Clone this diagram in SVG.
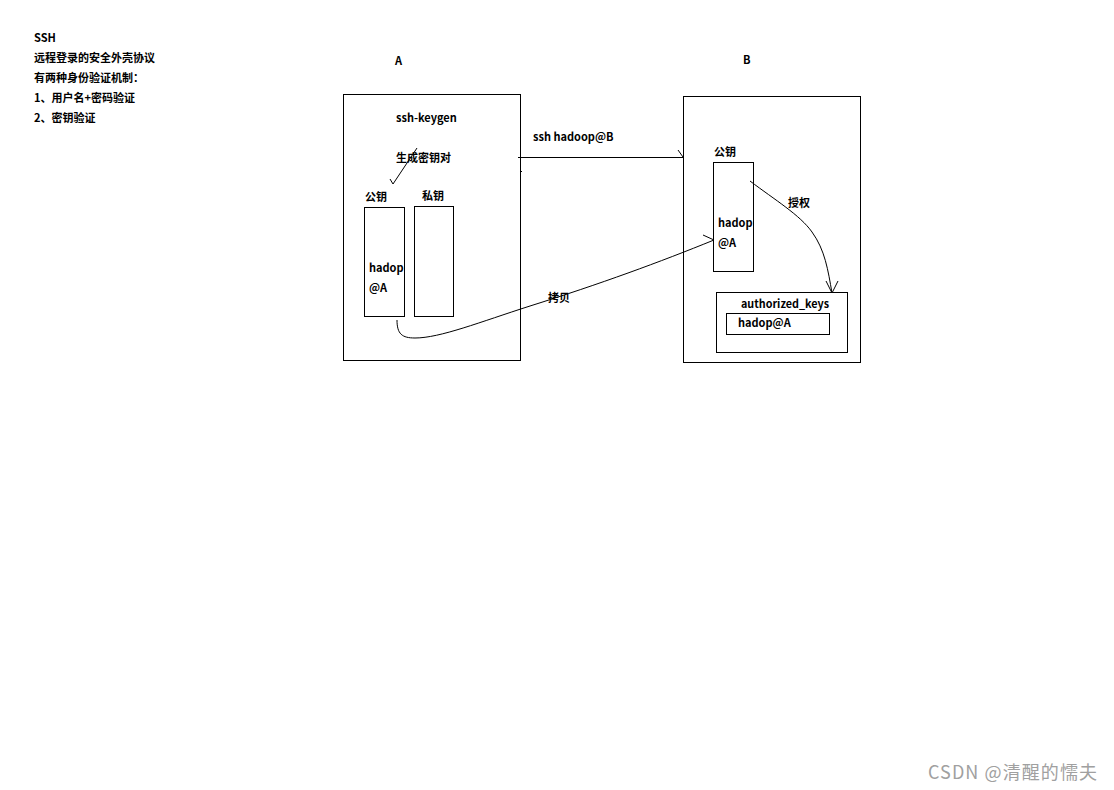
<svg xmlns="http://www.w3.org/2000/svg" width="1114" height="790" viewBox="0 0 1114 790">
<style>
.t{font-family:"Noto Sans CJK SC","DejaVu Sans",sans-serif;font-size:11px;font-weight:bold;fill:#000}
.b{fill:#fff;stroke:#000;stroke-width:1}
.c{fill:none;stroke:#000;stroke-width:1}
.wm{font-family:"Noto Sans CJK SC","Liberation Sans",sans-serif;font-size:18px;fill:#a0a0a0}
</style>
<rect width="1114" height="790" fill="#fff"/>
<g id="notes">
<text class="t" x="34" y="42">SSH</text>
<text class="t" x="34" y="62">远程登录的安全外壳协议</text>
<text class="t" x="34" y="82">有两种身份验证机制：</text>
<text class="t" x="34" y="102">1、用户名+密码验证</text>
<text class="t" x="34" y="122">2、密钥验证</text>
</g>
<g id="hostA">
<text class="t" x="395" y="65">A</text>
<rect class="b" x="343.5" y="94.5" width="177" height="266"/>
<text class="t" x="396" y="122">ssh-keygen</text>
<text class="t" x="396" y="162">生成密钥对</text>
</g>
<g id="pubA">
<text class="t" x="365" y="201">公钥</text>
<rect class="b" x="364.5" y="207.5" width="40" height="109"/>
<text class="t" x="369" y="272">hadop</text>
<text class="t" x="369" y="292">@A</text>
</g>
<g id="privA">
<text class="t" x="422" y="200">私钥</text>
<rect class="b" x="414.5" y="206.5" width="39" height="110"/>
</g>
<g id="hostB">
<text class="t" x="743" y="64">B</text>
<rect class="b" x="683.5" y="96.5" width="177" height="266"/>
</g>
<g id="pubB">
<text class="t" x="714" y="156">公钥</text>
<rect class="b" x="713.5" y="162.5" width="40" height="109"/>
<text class="t" x="718" y="227">hadop</text>
<text class="t" x="718" y="247">@A</text>
</g>
<g id="authKeys">
<rect class="b" x="716.5" y="292.5" width="131" height="60"/>
<text class="t" x="741" y="308" textLength="88" lengthAdjust="spacingAndGlyphs">authorized_keys</text>
<rect class="b" x="726.5" y="313.5" width="103" height="21"/>
<text class="t" x="738" y="327">hadop@A</text>
</g>
<g id="connectors">
<path class="c" d="M518 157.5 H683 M678 150 L683 157"/>
<rect x="521" y="171" width="1" height="1" fill="#000"/>
<text class="t" x="533" y="141">ssh hadoop@B</text>
<path class="c" d="M417 148 L393 184 M390 179 L393 184"/>
<path class="c" d="M397 320 C397 334 402 338 415 338 C440 338 480 322 530 306 C600 284 660 262 714 240 M703 235 L714 240"/>
<text class="t" x="548" y="302">拷贝</text>
<path class="c" d="M750 181 C775 200 800 215 812 232 C825 250 828 270 832 293 M826 281 L832 293 L838 281"/>
<text class="t" x="788" y="207">授权</text>
</g>
<text class="wm" x="928" y="779" textLength="169" lengthAdjust="spacing">CSDN @清醒的懦夫</text>
</svg>
